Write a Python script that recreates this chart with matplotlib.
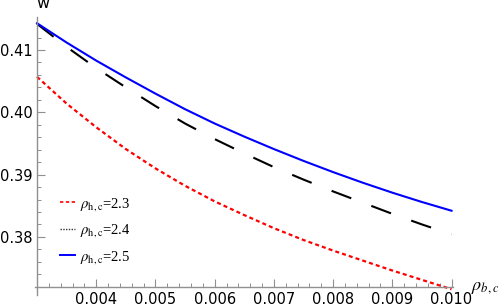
import numpy as np
import matplotlib.pyplot as plt
from matplotlib.lines import Line2D
from matplotlib.ticker import FixedLocator, MultipleLocator

plt.rcParams['mathtext.fontset'] = 'stix'

# data
rho_b = [0.0030, 0.0035, 0.0040, 0.0045, 0.0050, 0.0055, 0.0060, 0.0065,
         0.0070, 0.0075, 0.0080, 0.0085, 0.0090, 0.0095, 0.0100]
w_23 = [0.4057, 0.4014, 0.3976, 0.3941, 0.3910, 0.3882, 0.3857, 0.3835,
        0.3814, 0.3795, 0.3778, 0.3762, 0.3746, 0.3731, 0.3716]
w_24 = [0.4142, 0.4105, 0.4071, 0.4040, 0.4010, 0.3982, 0.3957, 0.3934,
        0.3912, 0.3892, 0.3873, 0.3855, 0.3837, 0.3820, 0.3804]
w_25 = [0.4143, 0.4112, 0.4083, 0.4056, 0.4030, 0.4005, 0.3982, 0.3961,
        0.3941, 0.3922, 0.3904, 0.3887, 0.3871, 0.3856, 0.3842]
rho_h = ['2.3', '2.4', '2.5']
x_ticks = [0.004, 0.005, 0.006, 0.007, 0.008, 0.009, 0.010]
y_ticks = [0.38, 0.39, 0.40, 0.41]

gray = '#909090'

fig = plt.figure(figsize=(4.98, 3.05), dpi=100)
ax = fig.add_axes([35/498, 10/305, 418/498, 278/305])

ax.plot(rho_b, w_23, color='red', lw=1.6, ls=(0, (1.8, 1.4)))
ax.plot(rho_b, w_24, color='black', lw=1.5, ls=(0, (10.1, 10.3)))
ax.plot(rho_b, w_25, color='#0000ff', lw=1.5)

ax.set_xlim(0.002966, 0.010025)
ax.set_ylim(0.37067, 0.4153)

for s in ['top', 'right']:
    ax.spines[s].set_visible(False)
ax.spines['left'].set_position(('data', 0.003))
ax.spines['bottom'].set_position(('data', 0.372))
for s in ['left', 'bottom']:
    ax.spines[s].set_color(gray)
    ax.spines[s].set_linewidth(1.0)

ax.xaxis.set_major_locator(FixedLocator(x_ticks))
ax.xaxis.set_minor_locator(MultipleLocator(0.0002))
ax.yaxis.set_major_locator(FixedLocator(y_ticks))
ax.yaxis.set_minor_locator(MultipleLocator(0.002))
ax.set_xticklabels([f'{v:.3f}' for v in x_ticks])
ax.set_yticklabels([f'{v:.2f}' for v in y_ticks])

ax.tick_params(which='major', direction='in', length=6, width=0.8, color=gray,
               labelsize=10.5)
ax.tick_params(which='minor', direction='in', length=3, width=0.7, color=gray)
ax.tick_params(axis='y', which='major', pad=3)
ax.tick_params(axis='x', which='major', pad=4)

fig.text(43/498, 1 - 8.5/305, 'w', ha='center', va='baseline', fontsize=11.5)
fig.text(471/498, 1 - 290/305, r'$\rho_{b,c}$', ha='left', va='baseline',
         fontsize=13)

handles = [Line2D([], [], color='red', lw=1.2, ls=(0, (2, 1.5))),
           Line2D([], [], color='#333333', lw=1.0, ls=(0, (1, 1))),
           Line2D([], [], color='#0000ff', lw=1.4)]
labels = [r'$\rho_{\mathrm{h,c}}$=' + r for r in rho_h]
leg = ax.legend(handles, labels, loc='upper left', frameon=False,
                bbox_to_anchor=(60/498, 1 - 196/305),
                bbox_transform=fig.transFigure, borderpad=0, borderaxespad=0,
                handlelength=1.0, handletextpad=0.35, labelspacing=0.65,
                prop={'family': 'Liberation Serif', 'size': 10.5})

fig.savefig('out.png', dpi=100)
